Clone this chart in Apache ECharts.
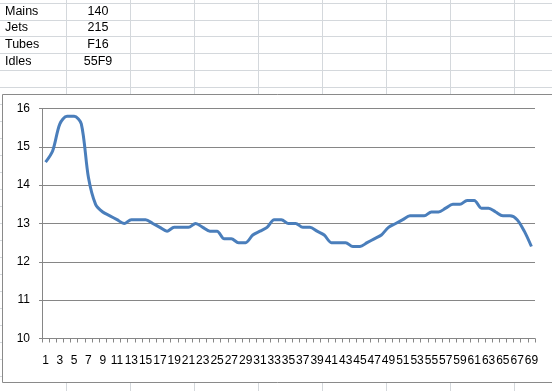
<!DOCTYPE html>
<html>
<head>
<meta charset="utf-8">
<script src="https://cdn.jsdelivr.net/npm/echarts@6/dist/echarts.min.js"></script>
<style>
html,body{margin:0;padding:0;background:#fff;}
#chart{width:552px;height:391px;}
</style>
</head>
<body>
<div id="chart"></div>
<script>
// Spreadsheet cells
var cellLabels = ['Mains', 'Jets', 'Tubes', 'Idles'];
var cellValues = ['140', '215', 'F16', '55F9'];

// Chart data
var categories = [];
for (var i = 1; i <= 69; i++) categories.push(String(i));
var values = [
  14.6, 14.9, 15.6, 15.8, 15.8, 15.6, 14.2, 13.5, 13.3, 13.2,
  13.1, 13.0, 13.1, 13.1, 13.1, 13.0, 12.9, 12.8, 12.9, 12.9,
  12.9, 13.0, 12.9, 12.8, 12.8, 12.6, 12.6, 12.5, 12.5, 12.7,
  12.8, 12.9, 13.1, 13.1, 13.0, 13.0, 12.9, 12.9, 12.8, 12.7,
  12.5, 12.5, 12.5, 12.4, 12.4, 12.5, 12.6, 12.7, 12.9, 13.0,
  13.1, 13.2, 13.2, 13.2, 13.3, 13.3, 13.4, 13.5, 13.5, 13.6,
  13.6, 13.4, 13.4, 13.3, 13.2, 13.2, 13.1, 12.8, 12.4
];

var cellLine = '#d4d8dc';
var graphics = [];
// horizontal row lines above chart
[3, 20, 36, 53, 70, 87].forEach(function (y) {
  graphics.push({type: 'line', z: -20, shape: {x1: 0, y1: y + 0.5, x2: 552, y2: y + 0.5}, style: {stroke: cellLine, lineWidth: 1}});
});
// vertical column lines
[66, 130, 194, 258, 322, 386, 450, 514].forEach(function (x) {
  graphics.push({type: 'line', z: -20, shape: {x1: x + 0.5, y1: 0, x2: x + 0.5, y2: 94}, style: {stroke: cellLine, lineWidth: 1}});
  graphics.push({type: 'line', z: -20, shape: {x1: x + 0.5, y1: 383, x2: x + 0.5, y2: 391}, style: {stroke: cellLine, lineWidth: 1}});
});
// row stubs left of chart
for (var ry = 104; ry < 383; ry += 17) {
  graphics.push({type: 'line', z: -20, shape: {x1: 0, y1: ry + 0.5, x2: 2, y2: ry + 0.5}, style: {stroke: cellLine, lineWidth: 1}});
}
// chart box
graphics.push({type: 'rect', z: -10, shape: {x: 2.5, y: 94.5, width: 600, height: 288}, style: {fill: '#ffffff', stroke: '#8a8a8a', lineWidth: 1}});
// cell texts
var rowCenters = [11.5, 28, 44.5, 61.5];
cellLabels.forEach(function (t, k) {
  graphics.push({type: 'text', z: -5, style: {text: t, x: 5, y: rowCenters[k], fill: '#000', font: '12.5px "Liberation Sans", Arial, sans-serif', textAlign: 'left', textVerticalAlign: 'middle'}});
});
cellValues.forEach(function (t, k) {
  graphics.push({type: 'text', z: -5, style: {text: t, x: 98, y: rowCenters[k], fill: '#000', font: '12.5px "Liberation Sans", Arial, sans-serif', textAlign: 'center', textVerticalAlign: 'middle'}});
});

var chart = echarts.init(document.getElementById('chart'), null, {renderer: 'canvas'});
chart.setOption({
  backgroundColor: '#ffffff',
  animation: false,
  graphic: {elements: graphics},
  grid: {left: 42, right: 17, top: 108.5, bottom: 52.5, containLabel: false},
  xAxis: {
    type: 'category',
    data: categories,
    boundaryGap: true,
    axisLine: {show: true, lineStyle: {color: '#868686', width: 1}},
    axisTick: {show: true, interval: 0, length: 4, inside: false, lineStyle: {color: '#868686'}},
    axisLabel: {interval: 1, margin: 16, color: '#000', fontSize: 12, fontFamily: '"Liberation Sans", Arial, sans-serif'},
    splitLine: {show: false}
  },
  yAxis: {
    type: 'value',
    min: 10, max: 16, interval: 1,
    axisLine: {show: true, lineStyle: {color: '#868686', width: 1}},
    axisTick: {show: true, length: 3, lineStyle: {color: '#868686'}},
    axisLabel: {margin: 12, color: '#000', fontSize: 12, fontFamily: '"Liberation Sans", Arial, sans-serif'},
    splitLine: {show: true, lineStyle: {color: '#868686', width: 1}}
  },
  series: [{
    type: 'line',
    data: values,
    smooth: 0.3,
    symbol: 'none',
    lineStyle: {color: '#4a7ebb', width: 3},
    itemStyle: {color: '#4a7ebb'}
  }]
});
</script>
</body>
</html>
